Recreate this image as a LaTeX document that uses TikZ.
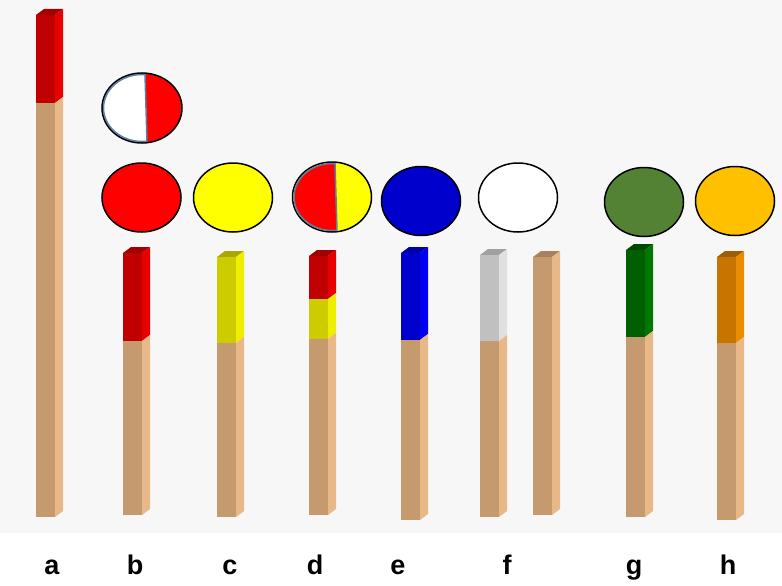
\documentclass[tikz,border=0pt]{standalone}
\usepackage{fontspec}
\newfontfamily\lblfont{Liberation Sans}
\definecolor{bgc}{HTML}{F7F7F7}
\definecolor{tanF}{HTML}{C49A6E}
\definecolor{tanS}{HTML}{E8B888}
\definecolor{tanT}{HTML}{A8825E}
\definecolor{redF}{HTML}{C00000}
\definecolor{redS}{HTML}{E60000}
\definecolor{redT}{HTML}{A00000}
\definecolor{yelF}{HTML}{CCCC00}
\definecolor{yelS}{HTML}{EEEE00}
\definecolor{yelT}{HTML}{A8A800}
\definecolor{bluF}{HTML}{0000CC}
\definecolor{bluS}{HTML}{0000EE}
\definecolor{bluT}{HTML}{0000A8}
\definecolor{gryF}{HTML}{C0C0C0}
\definecolor{gryS}{HTML}{E0E0E0}
\definecolor{gryT}{HTML}{A0A0A0}
\definecolor{grnF}{HTML}{005F00}
\definecolor{grnS}{HTML}{007800}
\definecolor{grnT}{HTML}{004800}
\definecolor{orgF}{HTML}{C87400}
\definecolor{orgS}{HTML}{E88C00}
\definecolor{orgT}{HTML}{A05C00}
\definecolor{cRed}{HTML}{FF0000}
\definecolor{cYel}{HTML}{FFFF00}
\definecolor{cBlu}{HTML}{0000CC}
\definecolor{cGrn}{HTML}{548235}
\definecolor{cOrg}{HTML}{FFC000}
\definecolor{steel}{HTML}{5B80A8}
\newcommand\pseg[5]{%
  \fill[#4] (#1,#2) rectangle (#1+19,#3);
  \fill[#5] (#1+19,#2) -- (#1+27,#2-6) -- (#1+27,#3-6) -- (#1+19,#3) -- cycle;}
\newcommand\pcap[3]{%
  \fill[#3] (#1,#2) -- (#1+19,#2) -- (#1+27,#2-6) -- (#1+8,#2-6) -- cycle;}
\newcommand\splitdisc[6]{% cx, cy, rx, ry, left colour, right colour
  \filldraw[fill=#6, draw=black, line width=1.5pt] (#1,#2) ellipse [x radius=#3, y radius=#4];
  \begin{scope}
    \clip (#1-60,#2-#4-4) -- (#1+3-0.1,#2-#4-4) -- (#1+5+0.1,#2+#4+4) -- (#1-60,#2+#4+4) -- cycle;
    \filldraw[fill=#5, draw=steel, line width=1.5pt] (#1,#2) ellipse [x radius=#3-1.5, y radius=#4-1.5];
  \end{scope}
  \draw[steel, line width=1.5pt] (#1+3,#2-#4+1.5) -- (#1+5,#2+#4-1.5);}
\tikzset{
  disc/.style={draw=black, line width=1.5pt},
  lbl/.style={anchor=base, inner sep=0pt, font=\lblfont\bfseries\fontsize{27}{30}\selectfont}
}
\begin{document}
\begin{tikzpicture}[x=1pt,y=-1pt]
\useasboundingbox (0,0) rectangle (782,586);
\fill[white] (0,0) rectangle (782,586);
\fill[bgc] (0,0) rectangle (782,533);

% bar a
\pcap{36}{15}{redT}
\pseg{36}{15}{103}{redF}{redS}
\pseg{36}{103}{517}{tanF}{tanS}
% bar b
\pcap{123}{253}{redT}
\pseg{123}{253}{341}{redF}{redS}
\pseg{123}{341}{515}{tanF}{tanS}
% bar c
\pcap{217}{257}{yelT}
\pseg{217}{257}{343}{yelF}{yelS}
\pseg{217}{343}{517}{tanF}{tanS}
% bar d
\pcap{309}{256}{redT}
\pseg{309}{256}{299}{redF}{redS}
\pseg{309}{299}{339}{yelF}{yelS}
\pseg{309}{339}{515}{tanF}{tanS}
% bar e
\pcap{401}{253}{bluT}
\pseg{401}{253}{340}{bluF}{bluS}
\pseg{401}{340}{520}{tanF}{tanS}
% bar f1
\pcap{480}{255}{gryT}
\pseg{480}{255}{341}{gryF}{gryS}
\pseg{480}{341}{517}{tanF}{tanS}
% bar f2
\pcap{533}{257}{tanT}
\pseg{533}{257}{515}{tanF}{tanS}
% bar g
\pcap{626}{250}{grnT}
\pseg{626}{250}{337}{grnF}{grnS}
\pseg{626}{337}{517}{tanF}{tanS}
% bar h
\pcap{717}{257}{orgT}
\pseg{717}{257}{343}{orgF}{orgS}
\pseg{717}{343}{520}{tanF}{tanS}

% discs
\splitdisc{142}{108}{40}{35}{white}{cRed}
\draw[disc, fill=cRed] (141.5,197.5) ellipse [x radius=39.5, y radius=34.5];
\draw[disc, fill=cYel] (233,197.5) ellipse [x radius=39.5, y radius=34.5];
\splitdisc{332}{197}{39.5}{35}{cRed}{cYel}
\draw[disc, fill=cBlu] (421,201) ellipse [x radius=39.5, y radius=34.5];
\draw[disc, fill=white] (518,197.5) ellipse [x radius=39.5, y radius=34.5];
\draw[disc, fill=cGrn] (644,202) ellipse [x radius=39.5, y radius=34.5];
\draw[disc, fill=cOrg] (735,201) ellipse [x radius=39.5, y radius=34.5];

% labels
\node[lbl] (la) at (52,574) {a};
\node[lbl] (lb) at (135,574) {b};
\node[lbl] (lc) at (230,574) {c};
\node[lbl] (ld) at (315,574) {d};
\node[lbl] (le) at (398,574) {e};
\node[lbl] (lf) at (507,574) {f};
\node[lbl] (lg) at (634,574) {g};
\node[lbl] (lh) at (728,574) {h};
\end{tikzpicture}
\end{document}
